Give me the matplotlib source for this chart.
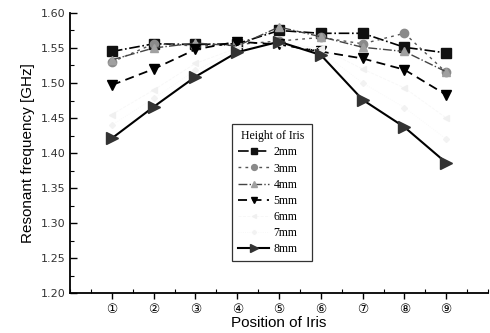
import matplotlib.pyplot as plt
from matplotlib.ticker import MultipleLocator
import numpy as np

positions = [1, 2, 3, 4, 5, 6, 7, 8, 9]
pos_labels = ['①', '②', '③', '④', '⑤', '⑥', '⑦', '⑧', '⑨']

h_2mm = [1.545, 1.556, 1.555, 1.556, 1.575, 1.571, 1.571, 1.551, 1.543]
h_3mm = [1.530, 1.556, 1.553, 1.555, 1.560, 1.565, 1.556, 1.571, 1.515]
h_4mm = [1.533, 1.550, 1.557, 1.553, 1.580, 1.566, 1.551, 1.545, 1.516]
h_5mm = [1.497, 1.520, 1.548, 1.559, 1.555, 1.545, 1.535, 1.519, 1.483]
h_6mm = [1.455, 1.490, 1.528, 1.550, 1.556, 1.550, 1.520, 1.493, 1.450]
h_7mm = [1.440, 1.478, 1.518, 1.548, 1.558, 1.545, 1.500, 1.465, 1.420]
h_8mm = [1.421, 1.466, 1.509, 1.544, 1.559, 1.540, 1.476, 1.437, 1.386]

fig = plt.figure(figsize=(4.9, 3.33), dpi=100)
ax = fig.add_axes([0.143, 0.12, 0.853, 0.841])

ax.plot(positions, h_2mm, color='black', ls='-.', lw=1.2, marker='s', ms=7,
        mfc='#111111', mec='#111111', label='2mm')
ax.plot(positions, h_3mm, color='#555555', ls=(0, (2, 3)), lw=1.0, marker='o', ms=6,
        mfc='#8a8a8a', mec='#8a8a8a', label='3mm')
ax.plot(positions, h_4mm, color='#444444', ls='-.', lw=1.0, marker='^', ms=6,
        mfc='#a0a0a0', mec='#a0a0a0', label='4mm')
ax.plot(positions, h_5mm, color='black', ls=(0, (5, 3)), lw=1.3, marker='v', ms=7,
        mfc='black', mec='black', label='5mm')
# 6mm and 7mm are almost washed out in the scan
ax.plot(positions, h_6mm, color='#f7f7f7', ls='--', lw=0.6, marker='<', ms=4,
        mfc='#f0f0f0', mec='#f0f0f0', label='6mm')
ax.plot(positions, h_7mm, color='#f7f7f7', ls=':', lw=0.6, marker='D', ms=3,
        mfc='#f2f2f2', mec='#f2f2f2', label='7mm')
ax.plot(positions, h_8mm, color='black', ls='-', lw=1.5, marker='>', ms=9,
        mfc='#333333', mec='#333333', label='8mm')

ax.set_xlim(0, 10)
ax.set_ylim(1.20, 1.60)
ax.set_xticks(positions)
ax.set_xticklabels(pos_labels, family=['DejaVu Sans', 'Noto Sans CJK SC'], fontsize=9)
ax.xaxis.set_minor_locator(MultipleLocator(0.5))
ax.yaxis.set_major_locator(MultipleLocator(0.05))
ax.yaxis.set_minor_locator(MultipleLocator(0.025))
ax.set_yticklabels([f'{v:.2f}' for v in ax.get_yticks()], fontsize=8, color='#333333')

ax.spines['top'].set_visible(False)
ax.spines['right'].set_visible(False)
ax.spines['left'].set_linewidth(1.3)
ax.spines['bottom'].set_linewidth(1.3)
ax.tick_params(axis='y', which='major', direction='in', length=5, width=1)
ax.tick_params(axis='y', which='minor', direction='in', length=3, width=0.8)
ax.tick_params(axis='x', which='major', direction='out', length=4, width=1, pad=3)
ax.tick_params(axis='x', which='minor', direction='in', length=3, width=0.8)

ax.set_ylabel('Resonant frequency [GHz]', family='Liberation Sans', fontsize=11, labelpad=4)
ax.set_xlabel('Position of Iris', family='Liberation Sans', fontsize=11, labelpad=0)

leg = ax.legend(title='Height of Iris', loc='lower left', bbox_to_anchor=(0.374, 0.093, 0.219, 0.539),
                mode='expand', prop={'family': 'Liberation Serif', 'size': 8.5},
                title_fontproperties={'family': 'Liberation Serif', 'size': 8.5},
                frameon=True, fancybox=False, edgecolor='black', handlelength=2.6,
                handletextpad=0.4, labelspacing=0.35, borderpad=0.5, markerscale=0.7)
leg.get_frame().set_linewidth(0.9)

fig.savefig('out.png', dpi=100)
